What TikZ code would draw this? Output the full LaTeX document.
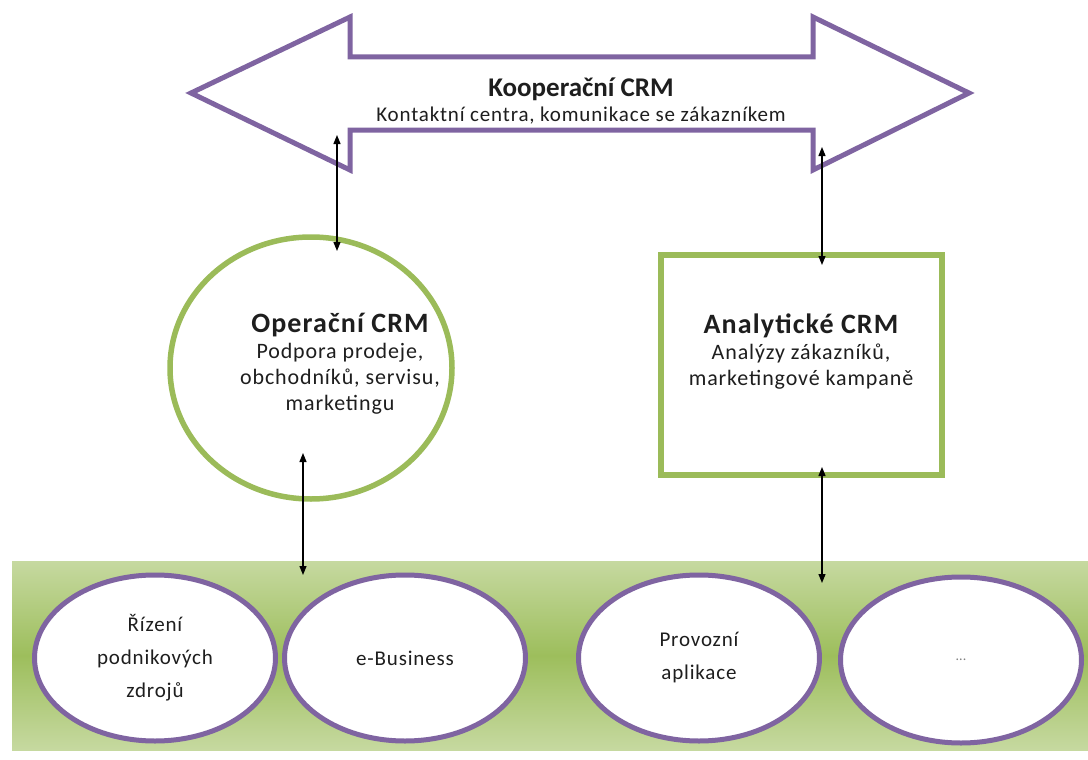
\documentclass[tikz,border=0pt]{standalone}
\usepackage{fontspec}
\setmainfont{Carlito}
\newfontfamily\bodyfont{Carlito}[LetterSpace=4]
\usetikzlibrary{shapes.geometric,arrows.meta}
\definecolor{purp}{HTML}{7F64A1}
\definecolor{olivegr}{HTML}{9BBB59}
\definecolor{bandlight}{HTML}{C6D9A0}
\definecolor{bandmid}{HTML}{9DBE5C}
\definecolor{txt}{HTML}{1E1E1E}
\begin{document}
\begin{tikzpicture}[x=1pt,y=-1pt,
  conn/.style={line width=1.2pt,{Triangle[length=9pt,width=7pt]}-{Triangle[length=9pt,width=7pt]}},
  appell/.style={ellipse,draw=purp,line width=5pt,fill=white,minimum width=241pt,minimum height=166pt,inner sep=0pt,align=center,text=txt,font=\bodyfont\fontsize{21}{33}\selectfont},
  bigshape/.style={draw=purp,line width=5pt,fill=white,line join=miter},
  greenshape/.style={draw=olivegr,line width=5.5pt,fill=white},
  ttl/.style={font=\fontsize{28}{32}\selectfont\bfseries,text=txt},
  body/.style={align=center,text=txt,font=\bodyfont\fontsize{22}{26}\selectfont}
]
\useasboundingbox (0,0) rectangle (1088,760);
% band of base systems
\shade[top color=bandlight,bottom color=bandlight,middle color=bandmid] (12,561) rectangle (1088,750);
\node[appell] (erp) at (155,658) {Řízení\\podnikových\\zdrojů};
\node[appell] (ebus) at (405,658) {e-Business};
\node[appell] (prov) at (699,658) {Provozní\\aplikace};
\node[appell,font=\fontsize{14}{16}\selectfont,text=gray] (more) at (961,660) {...};
% cooperative CRM double arrow
\draw[bigshape] (191,93) -- (350,17) -- (350,57) -- (813,57) -- (813,17) -- (969,93)
  -- (813,170) -- (813,130) -- (350,130) -- (350,170) -- cycle;
\node[align=center,text=txt] (koop) at (581,101)
  {{\fontsize{27}{30}\selectfont\bfseries Kooperační CRM}\\[5pt]{\bodyfont\fontsize{21}{26}\selectfont Kontaktní centra, komunikace se zákazníkem}};
% operational CRM
\node[ellipse,greenshape,minimum width=282pt,minimum height=262pt] (oper) at (311,368) {};
\node[body] (opertext) at (340,364) {{\fontsize{28}{32}\selectfont\bfseries Operační CRM}\\Podpora prodeje,\\obchodníků, servisu,\\marketingu};
% analytical CRM
\draw[greenshape] (661,255) rectangle (942,475);
\node[inner sep=0pt] (anal) at (801,365) {};
\node[body] (analtext) at (801,352) {{\fontsize{28}{32}\selectfont\bfseries Analytické CRM}\\Analýzy zákazníků,\\marketingové kampaně};
% connectors
\coordinate (a1) at (337,135);
\coordinate (a2) at (337,251);
\coordinate (b1) at (822,147);
\coordinate (b2) at (822,265);
\coordinate (c1) at (303,453);
\coordinate (c2) at (303,575);
\coordinate (d1) at (822,467);
\coordinate (d2) at (822,583);
\draw[conn] (a1) -- (a2);
\draw[conn] (b1) -- (b2);
\draw[conn] (c1) -- (c2);
\draw[conn] (d1) -- (d2);
\end{tikzpicture}
\end{document}
